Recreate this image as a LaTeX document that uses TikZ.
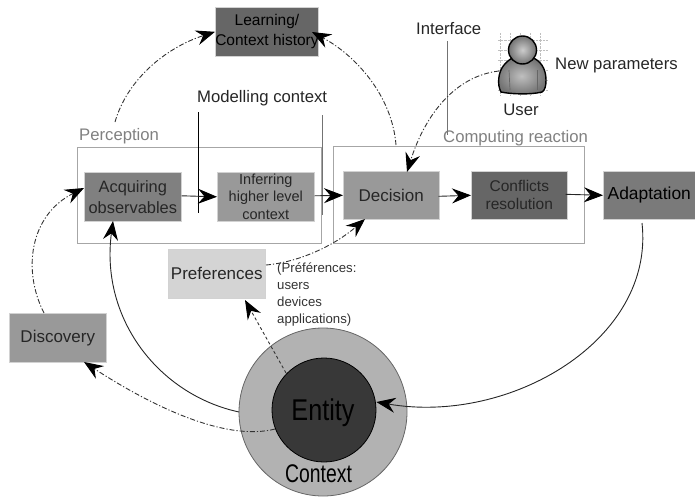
\documentclass[tikz,border=0pt]{standalone}
\usepackage{fontspec}
\setmainfont{Liberation Sans}
\usetikzlibrary{arrows.meta,positioning,calc}
\definecolor{gA}{gray}{0.40}
\definecolor{gB}{gray}{0.50}
\definecolor{gC}{gray}{0.60}
\definecolor{gD}{gray}{0.83}
\definecolor{gE}{gray}{0.48}
\tikzset{
  bx/.style={rectangle,inner sep=0pt,anchor=north west,align=center,draw=gray!35,line width=.6pt,text=black!85},
  grp/.style={rectangle,inner sep=0pt,anchor=north west,draw=black!35,line width=.9pt},
  lbl/.style={inner sep=0pt,font=\fontsize{16.7}{19}\selectfont,text=black!85},
  glbl/.style={lbl,text=black!50},
  tip/.style={-{Stealth[length=19pt,width=15pt,inset=6.5pt,black]}},
  solidc/.style={tip,line width=.9pt,black!85},
  dashc/.style={tip,line width=.9pt,black!80,dash pattern=on 5pt off 2pt on 1.2pt off 2pt},
  dotc/.style={tip,line width=.9pt,black!80,dash pattern=on 3pt off 2.5pt},
  vline/.style={line width=1pt},
}
\begin{document}
\begin{tikzpicture}[x=1pt,y=-1pt]
\useasboundingbox (0,0) rectangle (695,498);
% group frames
\node[grp,minimum width=244pt,minimum height=96pt] (perc) at (77,147) {};
\node[grp,minimum width=251pt,minimum height=97pt] (comp) at (333,146) {};
\node[glbl,anchor=west] (perclbl) at (79,136) {Perception};
\node[glbl,anchor=west] (complbl) at (443,138) {Computing reaction};
% boxes
\node[bx,fill=gA,minimum width=97pt,minimum height=49pt,font=\fontsize{15.5}{20}\selectfont,text=black] (learn) at (215,7) {Learning/\\Context history};
\node[bx,fill=gB,minimum width=97pt,minimum height=49pt,font=\fontsize{16.4}{21}\selectfont] (acq) at (84,172) {Acquiring\\observables};
\node[bx,fill=gC,minimum width=97pt,minimum height=49pt,font=\fontsize{14.5}{17.5}\selectfont] (inf) at (217,172) {Inferring\\higher level\\context};
\node[bx,fill=gC,minimum width=96pt,minimum height=48pt,font=\fontsize{17}{19}\selectfont] (dec) at (343,171) {Decision};
\node[bx,fill=gA,minimum width=96pt,minimum height=48pt,font=\fontsize{15.5}{18}\selectfont] (conf) at (471,171) {Conflicts\\resolution};
\node[bx,fill=gE,minimum width=92pt,minimum height=48pt,font=\fontsize{17.4}{19}\selectfont,text=black] (adap) at (603,171) {Adaptation};
\node[bx,fill=gD,minimum width=97pt,minimum height=49pt,font=\fontsize{17}{19}\selectfont] (pref) at (168,249) {Preferences};
\node[bx,fill=gC,minimum width=97pt,minimum height=49pt,font=\fontsize{17}{19}\selectfont] (disc) at (9,313) {Discovery};
% circles
\node[circle,draw=black!60,line width=.8pt,fill=black!30,minimum size=168pt,inner sep=0pt] (ctx) at (323,412) {};
\node[circle,draw=black,line width=.8pt,fill=black!78,minimum size=104pt,inner sep=0pt] (ent) at (324,410) {};
\node[inner sep=0pt,xscale=.84,font=\fontsize{30}{33}\selectfont,text=black] (entlbl) at (323,413) {Entity};
\node[inner sep=0pt,xscale=.76,font=\fontsize{25.5}{28}\selectfont,text=black] (ctxlbl) at (318.5,474) {Context};
% labels
\node[lbl,anchor=west] (model) at (197,98) {Modelling context};
\node[lbl,anchor=west] (iface) at (416,29) {Interface};
\node[lbl,anchor=west] (newp) at (555,65) {New parameters};
\node[lbl] (userlbl) at (521,110) {User};
\node[inner sep=0pt,anchor=north west,align=left,font=\fontsize{13.2}{17}\selectfont,text=black!80] (prefnote) at (277,263) {(Préférences:\\users\\devices\\applications)};
% vertical lines
\coordinate (mlA) at (198,112); \coordinate (mlB) at (198,213);
\coordinate (mrA) at (322,115); \coordinate (mrB) at (322,215);
\coordinate (ifA) at (447,41);  \coordinate (ifB) at (447,135);
\draw[vline,black] (mlA) -- (mlB);
\draw[vline,black!55] (mrA) -- (mrB);
\draw[vline,black!55] (ifA) -- (ifB);
% user icon
\node[inner sep=0pt,minimum width=50pt,minimum height=62pt] (user) at (523,64) {};
\draw[black!25,densely dotted,line width=.4pt,step=10pt] (498,33) grid (548,95);
\draw[line width=1.4pt,black,inner color=black!25,outer color=black!55]
  (501,92) .. controls (497,85) and (498,72) .. (504,65)
  .. controls (508,60) and (512,58) .. (515,57)
  -- (531,57) .. controls (540,60) and (546,68) .. (546,80)
  .. controls (546,86) and (545,90) .. (542,92)
  .. controls (530,95) and (510,94) .. (501,92) -- cycle;
\draw[line width=1.4pt,black,inner color=black!20,outer color=black!55] (522.5,50) circle (14pt);
\draw[black!60,line width=.7pt] (509,70) -- (510,90);
\draw[black!60,line width=.7pt] (537,70) -- (537,90);
% connectors
\coordinate (percout) at (115,122);
\coordinate (decout) at (396,145);
\coordinate (userout) at (499,71);
\coordinate (prefout) at (266,265);
\coordinate (discout) at (44,313);
\coordinate (entW) at (275,429);
\coordinate (ctxW) at (239,412);
\coordinate (adapout) at (642,223);
\coordinate (entP) at (286,373);
\draw[solidc] (acq.east) ++(0,-1) -- (inf.west);
\draw[solidc] (inf.east) ++(0,-1) -- (dec.west);
\draw[solidc] (dec.east) ++(-1,1) -- (conf.west);
\draw[solidc] (conf.east) ++(-2,-1) -- (adap.west);
\draw[dashc] (percout) .. controls (127,80) and (165,48) .. (learn.west);
\draw[dashc] (decout) .. controls (392,95) and (355,55) .. (312,32);
\draw[dashc] (userout) .. controls (455,76) and (425,115) .. (407,172);
\draw[dashc] (prefout) .. controls (300,262) and (335,245) .. (365,219);
\draw[dashc] (discout) .. controls (22,270) and (30,215) .. (84,188);
\draw[dashc] (entW) .. controls (225,442) and (150,405) .. (84,362);
\draw[solidc] (ctxW) .. controls (160,395) and (100,320) .. (113,221);
\draw[solidc] (adapout) .. controls (655,340) and (510,425) .. (ent.east |- 0,402);
\draw[dotc] (entP) -- (245,300);
\end{tikzpicture}
\end{document}
